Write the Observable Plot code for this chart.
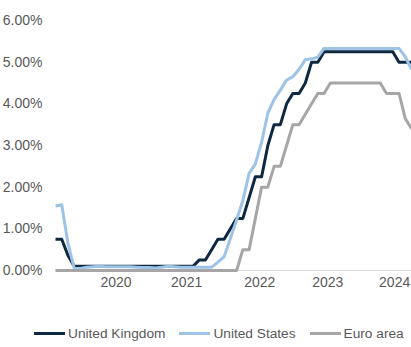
<!DOCTYPE html>
<html>
<head>
<meta charset="utf-8">
<script src="https://cdn.jsdelivr.net/npm/d3@7"></script>
<script src="https://cdn.jsdelivr.net/npm/@observablehq/plot@0.6"></script>
<style>
  html, body { margin: 0; padding: 0; background: #fff; }
  body { width: 411px; height: 347px; overflow: hidden; font-family: "Liberation Sans", Arial, sans-serif; }
  #chart svg { display: block; }
  .legend { display: flex; align-items: center; padding-left: 34px; margin-top: 26px;
            font-size: 13.7px; color: #595959; white-space: nowrap; }
  .legend .item { display: flex; align-items: center; margin-right: 14px; }
  .legend .swatch { width: 31px; height: 3px; margin-right: 3px; }
</style>
</head>
<body>
<div id="chart"></div>
<div class="legend" id="legend"></div>
<script>
// Monthly policy rates, January 2020 to October 2024 (per cent)
const months = d3.utcMonths(new Date(Date.UTC(2020, 0, 1)), new Date(Date.UTC(2024, 10, 1)))
  .map(d3.utcFormat("%Y-%m"));

const ukRate = [
  0.75, 0.75, 0.36, 0.10, 0.10, 0.10, 0.10, 0.10, 0.10, 0.10, 0.10, 0.10,
  0.10, 0.10, 0.10, 0.10, 0.10, 0.10, 0.10, 0.10, 0.10, 0.10, 0.10, 0.25,
  0.25, 0.50, 0.75, 0.75, 1.00, 1.25, 1.25, 1.75, 2.25, 2.25, 3.00, 3.50,
  3.50, 4.00, 4.25, 4.25, 4.50, 5.00, 5.00, 5.25, 5.25, 5.25, 5.25, 5.25,
  5.25, 5.25, 5.25, 5.25, 5.25, 5.25, 5.25, 5.00, 5.00, 5.00
];

const usRate = [
  1.55, 1.58, 0.65, 0.05, 0.05, 0.08, 0.09, 0.10, 0.09, 0.09, 0.09, 0.09,
  0.09, 0.08, 0.07, 0.07, 0.06, 0.08, 0.10, 0.09, 0.08, 0.08, 0.08, 0.08,
  0.08, 0.08, 0.20, 0.33, 0.77, 1.21, 1.68, 2.33, 2.56, 3.08, 3.78, 4.10,
  4.33, 4.57, 4.65, 4.83, 5.06, 5.08, 5.12, 5.33, 5.33, 5.33, 5.33, 5.33,
  5.33, 5.33, 5.33, 5.33, 5.33, 5.33, 5.33, 5.33, 5.13, 4.83
];

const euroRate = [
  0, 0, 0, 0, 0, 0, 0, 0, 0, 0, 0, 0,
  0, 0, 0, 0, 0, 0, 0, 0, 0, 0, 0, 0,
  0, 0, 0, 0, 0, 0, 0.50, 0.50, 1.25, 2.00, 2.00, 2.50,
  2.50, 3.00, 3.50, 3.50, 3.75, 4.00, 4.25, 4.25, 4.50, 4.50, 4.50, 4.50,
  4.50, 4.50, 4.50, 4.50, 4.50, 4.25, 4.25, 4.25, 3.65, 3.40
];

const seriesNames = ["United Kingdom", "United States", "Euro area"];
const seriesColors = ["#0E2841", "#9DC3E6", "#A6A6A6"];

// Year labels and where they sit along the month axis
const yearLabels = ["2020", "2021", "2022", "2023", "2024"];
const yearLabelMonths = [9.7, 21.0, 32.7, 43.6, 54.3];

const yTicks = [0, 1, 2, 3, 4, 5, 6];

const rows = [];
[ukRate, usRate, euroRate].forEach((vals, s) => {
  vals.forEach((v, i) => rows.push({ month: months[i], i, value: v, series: seriesNames[s] }));
});

const chart = Plot.plot({
  width: 411,
  height: 300,
  marginLeft: 55,
  marginRight: 0,
  marginTop: 20,
  marginBottom: 30,
  style: { fontFamily: "'Liberation Sans', Arial, sans-serif", fontSize: "14px", color: "#595959", background: "#fff" },
  x: { domain: [0, months.length - 1], axis: null },
  y: { domain: [0, 6], axis: null },
  color: { domain: seriesNames, range: seriesColors },
  marks: [
    Plot.ruleY([0], { stroke: "#D9D9D9", strokeWidth: 1 }),
    Plot.axisY(yTicks, {
      tickSize: 0, tickPadding: 13, fill: "#595959", fontSize: 14, label: null,
      tickFormat: d => d.toFixed(2) + "%"
    }),
    Plot.axisX(yearLabelMonths, {
      tickSize: 0, tickPadding: 7, fill: "#595959", fontSize: 14, label: null,
      tickFormat: (d, k) => yearLabels[k]
    }),
    Plot.line(rows, {
      x: "i", y: "value", z: "series", stroke: "series",
      strokeWidth: 3, strokeLinejoin: "round", strokeLinecap: "butt",
      clip: false
    })
  ]
});
document.getElementById("chart").appendChild(chart);

// Legend below the chart
const legend = document.getElementById("legend");
seriesNames.forEach((name, k) => {
  const item = document.createElement("div");
  item.className = "item";
  const sw = document.createElement("span");
  sw.className = "swatch";
  sw.style.background = seriesColors[k];
  const label = document.createElement("span");
  label.textContent = name;
  item.appendChild(sw);
  item.appendChild(label);
  legend.appendChild(item);
});
</script>
</body>
</html>
